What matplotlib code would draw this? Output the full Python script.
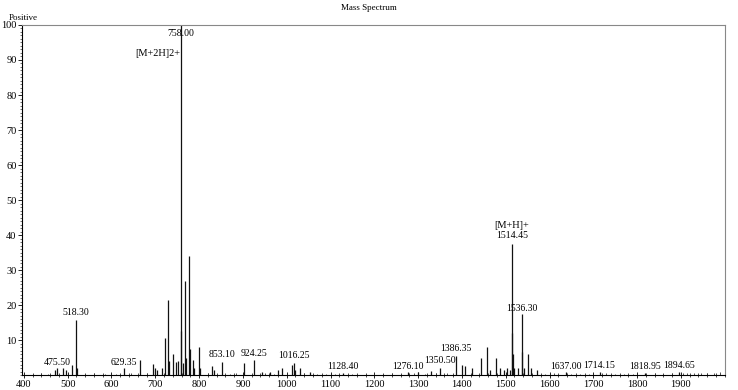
import matplotlib.pyplot as plt
from matplotlib.ticker import MultipleLocator

# Peaks (m/z, relative intensity %)
mz = [471, 476, 490, 497, 509, 518.3, 521,
      629.35, 664, 694, 699.7, 703, 715, 722.5, 730, 732.4, 741.5, 747, 751.5,
      758.0, 759, 763, 768, 769.5, 776.6, 779.6, 787, 789, 800.2, 801,
      830, 833, 853.1, 903, 924.25, 943, 962, 981, 989, 1012, 1016.25, 1019, 1031, 1054,
      1128.4, 1276.1, 1300, 1330, 1350.5, 1386.35, 1400, 1408, 1423,
      1443.6, 1457, 1465, 1478.6, 1488, 1495, 1503, 1509,
      1514.45, 1515.45, 1516.45, 1520, 1527, 1536.3, 1537.3, 1542,
      1552, 1558, 1571, 1637.0, 1714.15, 1818.95, 1894.65]
intensity = [1.5, 2.0, 2.0, 1.5, 3.0, 15.8, 2.0,
             2.0, 4.4, 3.3, 2.0, 1.5, 2.0, 10.7, 21.5, 4.0, 6.0, 3.8, 4.0,
             100.0, 12.5, 3.5, 27.0, 5.0, 34.0, 7.5, 4.4, 2.0, 8.0, 2.0,
             2.5, 1.5, 3.8, 3.5, 4.2, 1.0, 1.0, 1.5, 2.0, 3.0, 3.5, 1.5, 2.0, 1.0,
             0.6, 0.8, 0.8, 1.2, 2.0, 5.5, 3.0, 2.7, 2.0,
             5.0, 8.0, 1.5, 5.0, 2.0, 1.5, 2.0, 1.5,
             37.5, 12.0, 6.0, 2.0, 2.0, 17.5, 6.5, 2.0,
             6.0, 2.0, 1.5, 0.8, 1.0, 0.7, 1.0]

# Baseline noise
noise_mz = [420, 440, 455, 540, 560, 585, 610, 645, 680, 820, 870, 885, 950, 970,
            1040, 1070, 1090, 1110, 1150, 1180, 1200, 1220, 1240, 1260, 1290, 1315,
            1340, 1365, 1590, 1610, 1650, 1670, 1690, 1730, 1750, 1770, 1790, 1840,
            1860, 1880, 1905, 1915, 1930, 1945, 1960, 1975, 1990]
noise_h = [0.4, 0.5, 0.3, 0.4, 0.5, 0.3, 0.4, 0.6, 0.5, 0.5, 0.4, 0.6, 0.5, 0.4,
           0.5, 0.4, 0.3, 0.4, 0.3, 0.4, 0.5, 0.4, 0.5, 0.4, 0.5, 0.4,
           0.6, 0.5, 0.4, 0.5, 0.3, 0.4, 0.3, 0.5, 0.4, 0.3, 0.4, 0.5,
           0.4, 0.6, 0.5, 0.6, 0.7, 0.5, 0.6, 0.7, 0.8]

# Labelled peaks
label_mz = [475.5, 518.3, 629.35, 758.0, 853.1, 924.25, 1016.25, 1128.4,
            1276.1, 1350.5, 1386.35, 1514.45, 1536.3, 1637.0, 1714.15, 1818.95, 1894.65]
label_y = [2.2, 16.5, 2.3, 96.3, 4.5, 4.8, 4.2, 1.2,
           1.2, 2.8, 6.2, 38.5, 17.8, 1.3, 1.5, 1.3, 1.6]

plt.rcParams['font.family'] = ['Liberation Serif', 'DejaVu Serif']

fig = plt.figure(figsize=(7.38, 3.90), dpi=100)
ax = fig.add_axes([0.030, 0.038, 0.952, 0.898])

ax.vlines(noise_mz, 0, noise_h, color='#333333', linewidth=0.6)
ax.vlines(mz, 0, intensity, color='#111111', linewidth=0.9)

for m, y in zip(label_mz, label_y):
    ax.text(m, y, f'{m:.2f}', ha='center', va='bottom', fontsize=7)

ax.text(756, 90.5, '[M+2H]2+', ha='right', va='bottom', fontsize=7.5)
ax.text(1514.45, 41.5, '[M+H]+', ha='center', va='bottom', fontsize=7.5)

ax.set_xlim(396, 2000)
ax.set_ylim(0, 100)
ax.xaxis.set_minor_locator(MultipleLocator(20))
ax.yaxis.set_minor_locator(MultipleLocator(1))
ax.set_xticks(range(400, 2000, 100))
ax.set_yticks(range(10, 101, 10))
ax.tick_params(axis='x', which='major', direction='inout', length=5, width=0.6, labelsize=7.5, pad=1)
ax.tick_params(axis='x', which='minor', direction='inout', length=2.5, width=0.5)
ax.tick_params(axis='y', which='major', direction='out', length=3, width=0.6, labelsize=7.5, pad=1)
ax.tick_params(axis='y', which='minor', direction='out', length=1.5, width=0.4)

for side in ['top', 'right']:
    ax.spines[side].set_color('#888888')
    ax.spines[side].set_linewidth(0.8)
for side in ['left', 'bottom']:
    ax.spines[side].set_linewidth(0.8)

fig.text(0.5, 0.99, 'Mass Spectrum', ha='center', va='top', fontsize=6.5)
fig.text(0.012, 0.965, 'Positive', ha='left', va='top', fontsize=6.5)

plt.savefig('out.png', dpi=100)
